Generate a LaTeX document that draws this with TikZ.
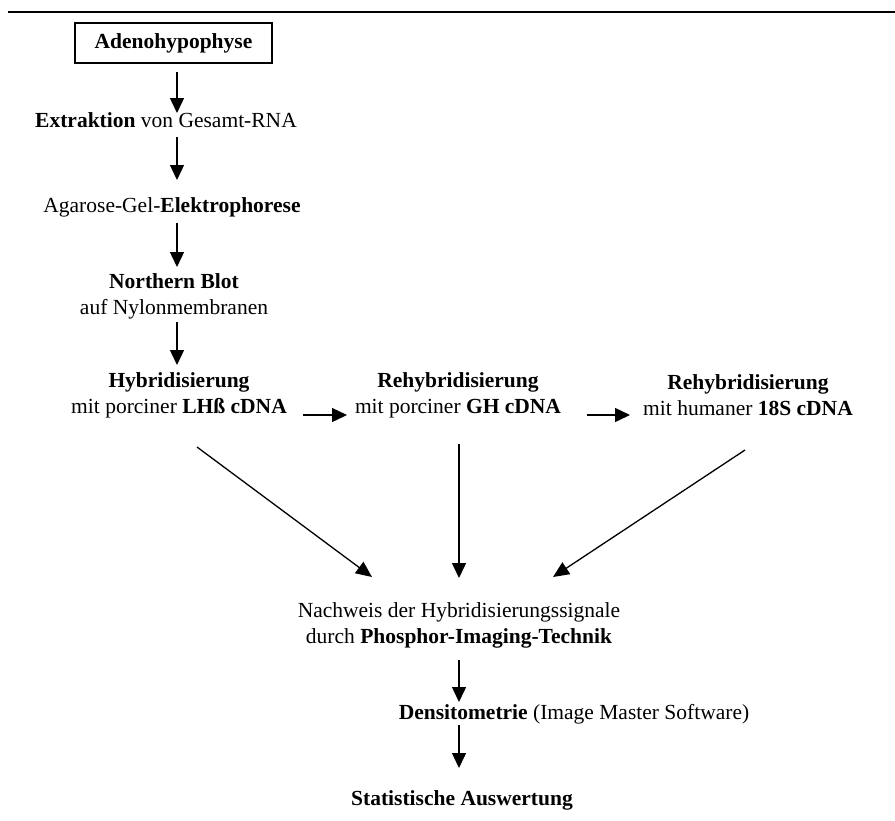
\documentclass[tikz,border=0pt]{standalone}
\usepackage{fontspec}
\setmainfont{Liberation Serif}
\usetikzlibrary{arrows.meta}
\begin{document}
\begin{tikzpicture}[x=1pt,y=-1pt,
  txt/.style={align=center,inner sep=0pt,font=\fontsize{21.5}{26}\selectfont},
  arr/.style={line width=1.4pt,-{Triangle[length=15pt,width=14pt]}},
  darr/.style={line width=1.3pt,-{Triangle[length=16pt,width=14pt]}}]
\useasboundingbox (0,0) rectangle (895,820);
\coordinate (L0) at (8,12);
\coordinate (L1) at (895,12);
\draw[line width=1.5pt] (L0) -- (L1);
% nodes
\node[draw,line width=1.2pt,minimum width=197pt,minimum height=40pt,inner sep=0pt,font=\fontsize{21.5}{26}\selectfont\bfseries] (adeno) at (173.5,43) {Adenohypophyse};
\node[txt] (ext) at (166,120) {\textbf{Extraktion} von Gesamt-RNA};
\node[txt] (aga) at (172,207) {Agarose-Gel-\textbf{Elektrophorese}};
\node[txt] (nb) at (174,296.5) {\textbf{Northern Blot}\\auf Nylonmembranen};
\node[txt] (hyb) at (179,395.5) {\textbf{Hybridisierung}\\mit porciner \textbf{LHß cDNA}};
\node[txt] (rh1) at (458,395.5) {\textbf{Rehybridisierung}\\mit porciner \textbf{GH cDNA}};
\node[txt] (rh2) at (748,395.5) {\textbf{Rehybridisierung}\\mit humaner \textbf{18S cDNA}};
\node[txt] (nach) at (459,625) {Nachweis der Hybridisierungssignale\\durch \textbf{Phosphor-Imaging-Technik}};
\node[txt] (dens) at (574,714) {\textbf{Densitometrie} (Image Master Software)};
\node[txt] (stat) at (462,800) {\textbf{Statistische Auswertung}};
% arrow end points
\coordinate (a1s) at (177,72);  \coordinate (a1e) at (177,113);
\coordinate (a2s) at (177,137); \coordinate (a2e) at (177,180);
\coordinate (a3s) at (177,223); \coordinate (a3e) at (177,267);
\coordinate (a4s) at (177,322); \coordinate (a4e) at (177,365);
\coordinate (h1s) at (303,415); \coordinate (h1e) at (347,415);
\coordinate (h2s) at (587,415); \coordinate (h2e) at (630,415);
\coordinate (d1s) at (197,447); \coordinate (d1e) at (372,577);
\coordinate (d2s) at (459,444); \coordinate (d2e) at (459,578);
\coordinate (d3s) at (745,450); \coordinate (d3e) at (553,577);
\coordinate (a5s) at (459,660); \coordinate (a5e) at (459,702);
\coordinate (a6s) at (459,725); \coordinate (a6e) at (459,768);
\draw[arr] (a1s) -- (a1e);
\draw[arr] (a2s) -- (a2e);
\draw[arr] (a3s) -- (a3e);
\draw[arr] (a4s) -- (a4e);
\draw[arr] (h1s) -- (h1e);
\draw[arr] (h2s) -- (h2e);
\draw[darr] (d1s) -- (d1e);
\draw[arr] (d2s) -- (d2e);
\draw[darr] (d3s) -- (d3e);
\draw[arr] (a5s) -- (a5e);
\draw[arr] (a6s) -- (a6e);
\end{tikzpicture}
\end{document}
